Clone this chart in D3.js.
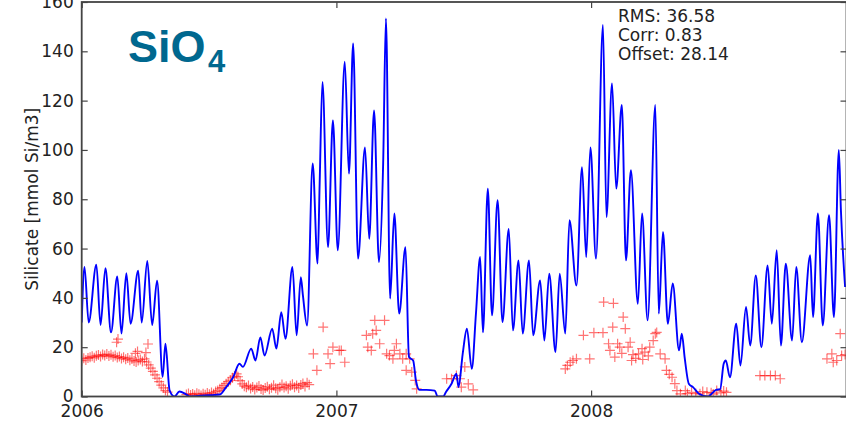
<!DOCTYPE html>
<html>
<head>
<meta charset="utf-8">
<title>SiO4 model vs observations</title>
<script src="https://cdn.jsdelivr.net/npm/d3@7"></script>
<style>
  body { margin: 0; background: #fff; }
  svg text { font-family: "DejaVu Sans", sans-serif; fill: #222; }
</style>
</head>
<body>
<svg id="chart" width="846" height="422"></svg>
<script>
// days since 2006-01-01 and silicate values (mmol Si/m3)
const modelDays = [
  0, 4, 10, 21, 27, 34, 42, 51, 57, 64,
  70, 81, 86, 94, 101, 108, 116, 120, 126, 133,
  140, 149, 155, 169, 183, 198, 207, 217, 226, 231,
  243, 249, 256, 262, 273, 279, 286, 292, 302, 308,
  314, 317, 323, 331, 338, 341, 345, 353, 360, 367,
  377, 383, 389, 396, 406, 412, 419, 426, 432, 436,
  442, 448, 455, 464, 469, 475, 479, 484, 494, 506,
  510, 518, 522, 530, 537, 540, 546, 552, 559, 565,
  571, 575, 582, 588, 596, 603, 612, 618, 626, 632,
  641, 647, 657, 663, 670, 679, 685, 693, 699, 709,
  717, 723, 729, 737, 747, 752, 760, 766, 774, 780,
  787, 797, 803, 811, 822, 827, 833, 840, 847, 856,
  860, 864, 870, 876, 885, 897, 909, 915, 920, 923,
  929, 938, 944, 952, 958, 966, 974, 983, 989, 996,
  1002, 1009, 1018, 1024, 1032, 1044, 1048, 1055, 1062, 1071,
  1078, 1085, 1088, 1094
];
const modelVals = [
  30, 52.5, 30, 53.5, 29, 52, 26, 48.7, 25.5, 50,
  29.5, 51, 30, 55, 29, 47, 8, 21.4, 2.4, 0,
  2, 1, 0, 0.3, 0.5, 0.8, 3.8, 7.8, 13.3, 12,
  19.4, 14.6, 24, 16.6, 27.5, 19.4, 34.2, 23.4, 52.5, 24.8,
  48.4, 41, 28.8, 94.5, 53.9, 86.4, 127.6, 60.6, 112, 59.3,
  135.8, 90.4, 143.2, 55.9, 101, 64, 116, 54.5, 94.5, 153.3,
  39.7, 74.2, 33.6, 60.6, 16, 14.6, 6.5, 2.7, 2.7, 2.4,
  0, 0, 1.8, 5.2, 9.2, 3.8, 17.3, 27.5, 11.2, 33.7,
  56.6, 26, 84.3, 32.9, 79.6, 30.2, 68, 26.8, 55.2, 25.5,
  55.2, 24.8, 47.1, 22.7, 49.8, 18, 49.8, 25.5, 71.5, 45,
  93, 56.6, 101, 55.9, 150.7, 72.8, 127, 84.3, 118.2, 55.2,
  91.8, 37.6, 74.2, 30.9, 118.2, 33.6, 66.7, 29.5, 45.8, 18.7,
  25.5, 16, 5.2, 3.8, 1, 0, 2.7, 3, 13.3, 14.6,
  7.8, 29.5, 12.6, 36.3, 20.7, 49.1, 20, 53.2, 29.5, 59.3,
  20.7, 53.9, 22.7, 52.5, 22, 57.3, 32.2, 74.2, 28.8, 73.5,
  32.2, 100, 75.5, 44.4
];

const obsDays = [
  0, 3, 6, 9, 12, 15, 18, 21, 24, 27,
  30, 33, 36, 39, 42, 45, 48, 51, 54, 57,
  60, 63, 66, 69, 72, 75, 78, 81, 84, 87,
  90, 93, 96, 99, 102, 105, 108, 111, 114, 117,
  120, 123, 50, 52, 77, 80, 92, 95, 150, 153,
  156, 159, 162, 165, 168, 171, 174, 177, 180, 183,
  186, 189, 192, 195, 198, 201, 204, 207, 210, 213,
  216, 219, 222, 224, 227, 230, 233, 236, 239, 242,
  245, 248, 251, 254, 257, 260, 263, 266, 269, 272,
  275, 278, 281, 284, 287, 290, 293, 296, 299, 302,
  305, 308, 311, 314, 317, 320, 323, 326, 332, 337,
  346, 353, 356, 360, 369, 372, 377, 408, 410, 415,
  417, 420, 422, 427, 434, 437, 441, 446, 448, 451,
  456, 460, 465, 465, 470, 473, 478, 480, 523, 530,
  537, 542, 544, 549, 554, 561, 693, 696, 700, 704,
  709, 719, 728, 734, 747, 748, 755, 757, 762, 761,
  764, 768, 771, 774, 776, 779, 783, 786, 788, 790,
  794, 798, 803, 804, 807, 812, 814, 819, 822, 824,
  829, 836, 838, 842, 846, 850, 853, 858, 865, 868,
  874, 880, 886, 890, 896, 902, 905, 910, 916, 920,
  924, 972, 979, 987, 994, 1001, 1068, 1075, 1077, 1082,
  1087, 1089, 1094
];
const obsVals = [
  14.5, 15.5, 14.8, 15.6, 15.9, 16.3, 15.7, 16.5, 16.8, 16.2,
  17.0, 16.6, 17.2, 16.4, 16.9, 16.1, 16.6, 15.8, 16.2, 15.4,
  15.9, 15.1, 15.6, 14.7, 15.2, 14.4, 14.0, 14.6, 15.0, 14.2,
  15.3, 14.0, 12.8, 11.5, 10.2, 8.8, 7.4, 6.0, 4.6, 3.5,
  2.4, 1.8, 22.0, 23.3, 17.5, 18.3, 17.8, 21.3, 0.8, 1.2,
  0.6, 1.0, 0.5, 1.3, 0.9, 0.4, 1.1, 0.7, 1.4, 0.9,
  1.6, 1.1, 2.0, 2.4, 3.1, 3.6, 4.4, 5.2, 6.0, 6.6,
  7.6, 8.3, 9.2, 8.0, 6.4, 5.1, 4.2, 3.8, 4.5, 3.2,
  3.9, 2.8, 3.6, 4.3, 3.0, 2.6, 3.4, 4.0, 2.9, 3.5,
  4.6, 3.3, 2.7, 3.8, 4.9, 3.6, 4.2, 3.1, 4.4, 5.0,
  3.8, 4.5, 3.4, 4.7, 5.3, 4.1, 5.6, 4.8, 17.3, 10.6,
  28.1, 17.3, 13.3, 20.0, 18.7, 18.7, 13.9, 24.8, 20.0, 18.7,
  25.4, 30.9, 26.8, 21.4, 30.9, 17.3, 16.6, 15.3, 18.7, 21.4,
  17.3, 15.3, 17.3, 10.6, 15.3, 9.9, 6.5, 3.1, 7.2, 7.2,
  8.5, 7.2, 3.8, 12.0, 5.1, 2.7, 11.2, 12.6, 13.9, 14.6,
  15.3, 24.8, 15.3, 25.9, 25.9, 38.3, 21.4, 18.7, 37.8, 28.1,
  16.0, 21.4, 20.0, 17.5, 32.2, 27.5, 20.0, 22.0, 14.6, 17.0,
  15.5, 17.3, 19.4, 15.0, 18.0, 16.5, 20.0, 22.7, 25.5, 26.0,
  17.3, 15.3, 10.6, 9.0, 7.8, 5.2, 2.4, 1.1, 2.4, 1.2,
  1.7, 1.2, 1.1, 2.0, 1.7, 1.5, 1.0, 2.4, 1.5, 2.2,
  1.7, 8.5, 8.5, 8.5, 8.5, 7.2, 15.3, 17.3, 13.9, 14.6,
  25.5, 16.6, 17.0
];

const yTicks = [0, 20, 40, 60, 80, 100, 120, 140, 160];
const xTickYears = [2006, 2007, 2008];
const statLines = ["RMS: 36.58", "Corr: 0.83", "Offset: 28.14"];
const yLabel = "Silicate [mmol Si/m3]";

const start = new Date(2006, 0, 1);
const toDate = d => d3.timeDay.offset(start, d);

const plotLeft = 81.7, plotRight = 846.5, plotTop = 2, plotBottom = 396.5;

const svg = d3.select("#chart");

const x = d3.scaleTime()
  .domain([start, new Date(2009, 0, 1)])
  .range([plotLeft, plotRight]);
const y = d3.scaleLinear()
  .domain([0, 160])
  .range([plotBottom, plotTop]);

svg.append("defs").append("clipPath").attr("id", "plot-clip")
  .append("rect")
  .attr("x", plotLeft).attr("y", plotTop)
  .attr("width", plotRight - plotLeft).attr("height", plotBottom - plotTop);

const plot = svg.append("g").attr("clip-path", "url(#plot-clip)");

// observations as "+" markers
const obs = obsDays.map((d, i) => ({ date: toDate(d), v: obsVals[i] }));
plot.append("g")
  .selectAll("path")
  .data(obs)
  .enter().append("path")
  .attr("transform", d => `translate(${x(d.date)},${y(d.v)})`)
  .attr("d", "M-5,0H5M0,-5V5")
  .attr("stroke", "#ff0000")
  .attr("stroke-opacity", 0.55)
  .attr("stroke-width", 1.2)
  .attr("fill", "none");

// model line
const model = modelDays.map((d, i) => ({ date: toDate(d), v: modelVals[i] }));
plot.append("path")
  .datum(model)
  .attr("fill", "none")
  .attr("stroke", "#0000ff")
  .attr("stroke-width", 1.9)
  .attr("stroke-linejoin", "round")
  .attr("d", d3.line()
    .x(d => x(d.date))
    .y(d => y(d.v))
    .curve(d3.curveMonotoneX));

// axes, ticks pointing inward
const yearDates = xTickYears.map(yr => new Date(yr, 0, 1));

const styleAxis = g => {
  g.select(".domain").remove();
  g.selectAll(".tick line").attr("stroke", "#444").attr("stroke-width", 1.2);
  g.selectAll(".tick text").style("font-size", "17px").attr("fill", "#222");
};

svg.append("g")
  .attr("transform", `translate(${plotLeft},0)`)
  .call(d3.axisLeft(y).tickValues(yTicks).tickSizeInner(-6).tickSizeOuter(0).tickPadding(8))
  .call(styleAxis);

svg.append("g")
  .attr("transform", `translate(${plotRight},0)`)
  .call(d3.axisRight(y).tickValues(yTicks).tickSizeInner(-6).tickSizeOuter(0).tickFormat(""))
  .call(styleAxis);

svg.append("g")
  .attr("transform", `translate(0,${plotBottom})`)
  .call(d3.axisBottom(x).tickValues(yearDates).tickFormat(d3.timeFormat("%Y"))
    .tickSizeInner(-6).tickSizeOuter(0).tickPadding(8))
  .call(styleAxis);

svg.append("g")
  .attr("transform", `translate(0,${plotTop})`)
  .call(d3.axisTop(x).tickValues(yearDates).tickSizeInner(-6).tickSizeOuter(0).tickFormat(""))
  .call(styleAxis);

// frame
svg.append("rect")
  .attr("x", plotLeft).attr("y", plotTop)
  .attr("width", plotRight - plotLeft).attr("height", plotBottom - plotTop)
  .attr("fill", "none")
  .attr("stroke", "#444")
  .attr("stroke-width", 1.8);

// y label
svg.append("text")
  .attr("transform", `translate(38,${(plotTop + plotBottom) / 2}) rotate(-90)`)
  .attr("text-anchor", "middle")
  .style("font-size", "17px")
  .text(yLabel);

// stats box
svg.append("g")
  .selectAll("text")
  .data(statLines)
  .enter().append("text")
  .attr("x", 618)
  .attr("y", (d, i) => 22 + i * 19)
  .style("font-size", "17px")
  .text(d => d);

// SiO4 title
const title = svg.append("g").style("font-weight", "bold");
title.append("text")
  .attr("x", 128).attr("y", 62)
  .style("font-family", "'Liberation Sans', Arial, sans-serif")
  .style("font-size", "45px")
  .style("fill", "#00688f")
  .text("SiO");
title.append("text")
  .attr("x", 208).attr("y", 72)
  .style("font-family", "'Liberation Sans', Arial, sans-serif")
  .style("font-size", "31px")
  .style("fill", "#00688f")
  .text("4");
</script>
</body>
</html>
